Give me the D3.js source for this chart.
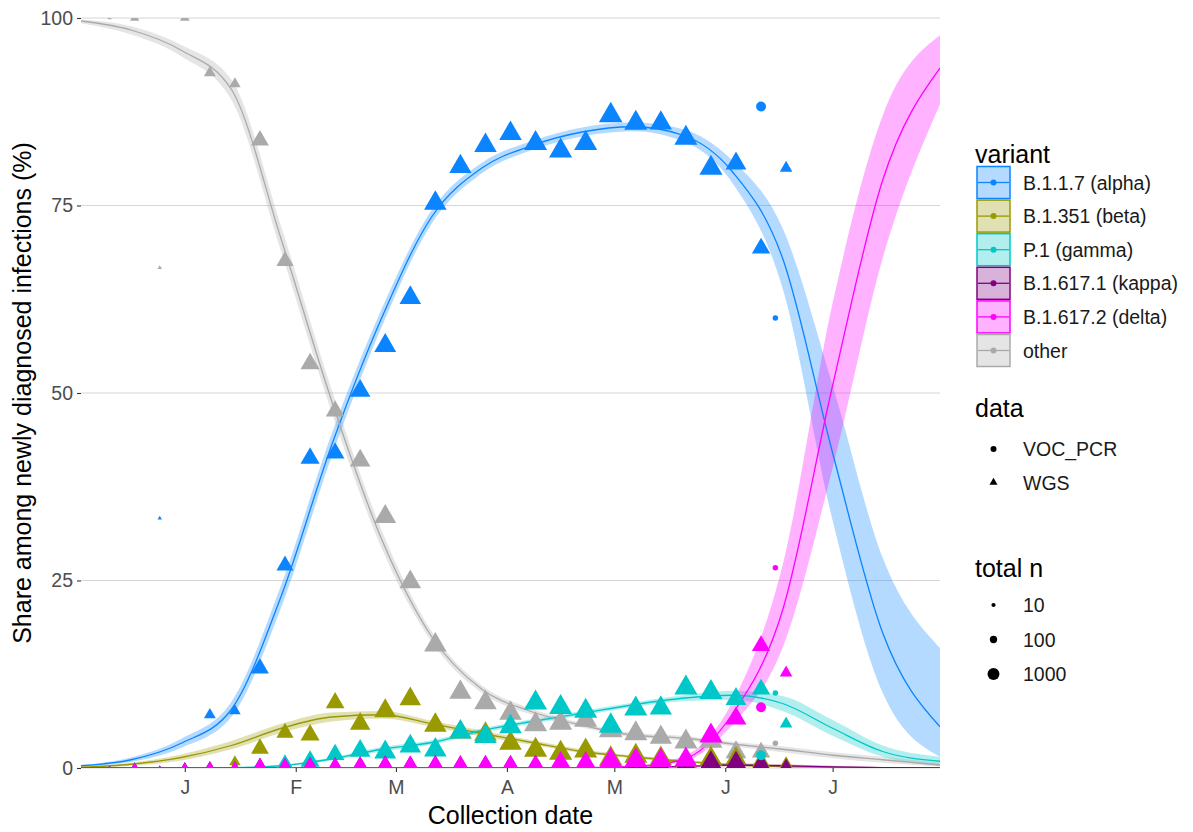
<!DOCTYPE html>
<html><head><meta charset="utf-8">
<script src="https://cdn.jsdelivr.net/npm/d3@7"></script>
<style>
body{margin:0;background:#fff}
text{font-family:"Liberation Sans",Arial,sans-serif}
</style>
</head><body>
<svg id="chart" width="1193" height="832"></svg>
<script>
// ---------------- DATA ----------------
const variants = ["B.1.1.7 (alpha)", "B.1.351 (beta)", "P.1 (gamma)", "B.1.617.1 (kappa)", "B.1.617.2 (delta)", "other"];
const dataTypes = ["VOC_PCR", "WGS"];
const sizeBreaks = [10, 100, 1000];
const yTicks = [0, 25, 50, 75, 100];
const xTickDates = ["2021-01-01","2021-02-01","2021-03-01","2021-04-01","2021-05-01","2021-06-01","2021-07-01"];
const xTickLabels = ["J","F","M","A","M","J","J"];

// weekly WGS observations
const weekDates = ["2020-12-11","2020-12-18","2020-12-25","2021-01-01","2021-01-08","2021-01-15","2021-01-22",
  "2021-01-29","2021-02-05","2021-02-12","2021-02-19","2021-02-26","2021-03-05","2021-03-12","2021-03-19",
  "2021-03-26","2021-04-02","2021-04-09","2021-04-16","2021-04-23","2021-04-30","2021-05-07","2021-05-14",
  "2021-05-21","2021-05-28","2021-06-04","2021-06-11","2021-06-18"];
const weekN = [2,80,3,100,230,200,1700,1400,2500,2200,3700,5500,5000,6500,6000,6500,6500,7500,7500,7500,8500,7500,6000,7500,7500,4000,2000,300];
const wgsAlpha = [0,0,33.3,0,7.1,7.6,13.3,27,41.3,42,50.3,56.3,62.7,75.3,80.2,83,84.6,83.3,82.3,83.3,87,86,86,84,80,80.6,69.3,80];
const wgsBeta  = [0,0,0,0,0,0.8,2.6,4.7,4.4,8.7,5.9,7.6,9.2,5.7,4.8,4.5,3.3,2.4,2.0,2.3,1.2,1.6,1.3,0.8,1.2,1.3,0.8,0.6];
const wgsGamma = [0,0,0,0,0,0,0,0.5,0.9,1.8,2.3,2.1,2.9,2.4,4.8,4.2,5.5,8.7,8.1,7.6,5.6,7.9,8.0,10.7,10.1,9.2,10.5,5.9];
const wgsKappa = [0,0,0,0,0,0,0,0,0,0,0,0,0,0,0,0,0,0,0,0,0,0,0.1,0.3,0.6,0.7,0.5,0.3];
const wgsDelta = [0,0,0,0,0,0,0,0,0,0,0,0,0,0,0,0,0,0,0.5,0.5,0.9,1.0,1.0,1.1,4.3,6.6,16.3,12.7];
const wgsOther = [100,100,66.7,100,92.7,91.2,83.7,67.6,53.9,47.6,41,33.5,24.8,16.4,10.1,8.7,7.3,5.8,6.0,6.4,5.0,4.6,4.1,3.5,3.6,2.1,2.1,0.5];

// VOC PCR observations
const pcrDates = ["2021-06-11","2021-06-15"];
const pcrN = [400, 30];
const pcrAlpha = [88.2, 60];
const pcrBeta  = [0, 0];
const pcrGamma = [1.7, 10];
const pcrKappa = [0, 0];
const pcrDelta = [8.1, 26.7];
const pcrOther = [2.0, 3.3];

// fitted multinomial curves with 95% bands
const fitDates = ["2020-12-03","2020-12-17","2020-12-31","2021-01-14","2021-01-28","2021-02-11","2021-02-25",
  "2021-03-11","2021-03-25","2021-04-08","2021-04-22","2021-05-06","2021-05-20","2021-06-03","2021-06-17",
  "2021-07-01","2021-07-15","2021-07-31"];
const fitAlpha = [0.3,1.1,3.3,7.8,23,43,60,73.5,80,83,84.8,85.5,84.4,79.5,68,42,18,5.5];
const loAlpha  = [0.2,0.8,2.7,6.8,21.5,41.5,58.8,72.6,79.3,82.4,84.2,84.9,83.6,78,64,33,10,1.5];
const hiAlpha  = [0.4,1.4,3.9,8.8,24.5,44.5,61.2,74.4,80.7,83.6,85.4,86.1,85.2,81,72,51,28,16];
const fitBeta  = [0.1,0.5,1.4,3.0,5.3,6.8,7.1,5.9,4.6,3.4,2.2,1.5,0.9,0.4,0.2,0.1,0.03,0.01];
const loBeta   = [0.05,0.3,1.0,2.5,4.7,6.2,6.6,5.5,4.2,3.1,2.0,1.3,0.7,0.3,0.1,0.05,0,0];
const hiBeta   = [0.15,0.7,1.8,3.6,5.9,7.4,7.6,6.3,5.0,3.7,2.5,1.7,1.1,0.6,0.3,0.15,0.08,0.03];
const fitGamma = [0,0,0.01,0.05,0.3,1.2,2.5,3.4,5.0,6.2,7.3,8.4,9.3,9.7,8.6,5.3,2.2,0.9];
const loGamma  = [0,0,0,0.02,0.2,1.0,2.2,3.1,4.7,5.9,7.0,8.1,8.9,9.1,7.6,4.3,1.5,0.3];
const hiGamma  = [0,0.01,0.03,0.1,0.45,1.4,2.8,3.7,5.3,6.5,7.6,8.7,9.7,10.3,9.6,6.4,3.0,1.5];
const fitKappa = [0,0,0,0,0,0,0,0,0,0,0,0.05,0.2,0.4,0.3,0.15,0.05,0.02];
const loKappa  = [0,0,0,0,0,0,0,0,0,0,0,0.02,0.1,0.25,0.15,0.05,0.01,0];
const hiKappa  = [0,0,0,0,0,0,0,0,0,0,0,0.1,0.3,0.6,0.5,0.3,0.15,0.08];
const fitDelta = [0,0,0,0,0,0,0,0,0,0.01,0.05,0.2,1.1,7.2,21,51,78.4,93.3];
const loDelta  = [0,0,0,0,0,0,0,0,0,0,0.01,0.15,0.8,5.8,16,40,68,88.5];
const hiDelta  = [0,0,0,0,0,0,0,0,0,0.02,0.08,0.3,1.5,8.8,27,62,87,97.7];
const fitOther = [99.6,98.4,95.7,90.5,70.4,49,30.5,17.5,10.5,7.5,5.7,4.4,4.0,3.2,2.5,1.7,1.1,0.4];
const loOther  = [99.3,97.8,94.9,89.1,68.7,47.5,29.3,16.8,10.0,7.1,5.4,4.1,3.7,2.9,2.1,1.3,0.7,0.2];
const hiOther  = [99.8,98.9,96.4,91.8,72.1,50.5,31.7,18.2,11.0,7.9,6.0,4.7,4.3,3.5,2.9,2.1,1.5,0.7];

// ---------------- STYLE ----------------
const colors = ["#0A84FF","#999900","#00C8C8","#800080","#FF00FF","#AAAAAA"];
const TITLE_FS = "25px", LABEL_FS = "19.5px";

const parse = d3.utcParse("%Y-%m-%d");
const svg = d3.select("#chart");
const P = {l:81, r:940, t:18, b:768};
const x = d3.scaleUtc().domain([parse("2020-12-03"), parse("2021-07-31")]).range([P.l, P.r]);
const y = d3.scaleLinear().domain([0,100]).range([P.b, P.t]);
const rad = n => 1.5 + 7.5 * Math.pow(Math.log10(n)/4, 1.8);
const area = n => Math.PI * rad(n) * rad(n);

const series = [
  {fit:fitAlpha, lo:loAlpha, hi:hiAlpha, wgs:wgsAlpha, pcr:pcrAlpha},
  {fit:fitBeta,  lo:loBeta,  hi:hiBeta,  wgs:wgsBeta,  pcr:pcrBeta},
  {fit:fitGamma, lo:loGamma, hi:hiGamma, wgs:wgsGamma, pcr:pcrGamma},
  {fit:fitKappa, lo:loKappa, hi:hiKappa, wgs:wgsKappa, pcr:pcrKappa},
  {fit:fitDelta, lo:loDelta, hi:hiDelta, wgs:wgsDelta, pcr:pcrDelta},
  {fit:fitOther, lo:loOther, hi:hiOther, wgs:wgsOther, pcr:pcrOther}
].map((s,i) => Object.assign(s, {name: variants[i], color: colors[i]}));

svg.append("defs").append("clipPath").attr("id","panel")
  .append("rect").attr("x",P.l).attr("y",P.t).attr("width",P.r-P.l).attr("height",P.b-P.t);

// gridlines
svg.append("g").selectAll("line").data(yTicks).join("line")
  .attr("x1",P.l).attr("x2",P.r).attr("y1",d=>y(d)).attr("y2",d=>y(d))
  .attr("stroke","#D6D6D6").attr("stroke-width",1.1);

const plot = svg.append("g").attr("clip-path","url(#panel)");
const fDates = fitDates.map(parse);
const bandGen = d3.area().curve(d3.curveMonotoneX).x(d=>x(d.d)).y0(d=>y(d.lo)).y1(d=>y(d.hi));
const lineGen = d3.line().curve(d3.curveMonotoneX).x(d=>x(d.d)).y(d=>y(d.v));

series.forEach(s => {
  const pts = fDates.map((d,i)=>({d, v:s.fit[i], lo:s.lo[i], hi:s.hi[i]}));
  plot.append("path").attr("d", bandGen(pts)).attr("fill", s.color).attr("fill-opacity",0.3);
});
series.forEach(s => {
  const pts = fDates.map((d,i)=>({d, v:s.fit[i]}));
  plot.append("path").attr("d", lineGen(pts)).attr("fill","none").attr("stroke", s.color).attr("stroke-width",1.3);
});

// points: draw "other" first, then variants in order
const drawOrder = [5,0,1,2,3,4];
const wDates = weekDates.map(parse), pDates = pcrDates.map(parse);
drawOrder.forEach(k => {
  const s = series[k];
  plot.append("g").selectAll("path").data(s.wgs.map((v,i)=>({d:wDates[i], v, n:weekN[i]}))).join("path")
    .attr("transform", d=>`translate(${x(d.d)},${y(d.v)})`)
    .attr("d", d=>d3.symbol().type(d3.symbolTriangle).size(area(d.n))())
    .attr("fill", s.color);
});
drawOrder.forEach(k => {
  const s = series[k];
  plot.append("g").selectAll("circle").data(s.pcr.map((v,i)=>({d:pDates[i], v, n:pcrN[i]})).filter(d=>d.v>0)).join("circle")
    .attr("cx", d=>x(d.d)).attr("cy", d=>y(d.v)).attr("r", d=>rad(d.n))
    .attr("fill", s.color);
});

// axes
const yAxis = svg.append("g").attr("transform",`translate(${P.l},0)`)
  .call(d3.axisLeft(y).tickValues(yTicks).tickSize(4).tickPadding(4));
const xAxis = svg.append("g").attr("transform",`translate(0,${P.b})`)
  .call(d3.axisBottom(x).tickValues(xTickDates.map(parse)).tickFormat((d,i)=>xTickLabels[i]).tickSize(4).tickPadding(8));
[yAxis, xAxis].forEach(a => {
  a.select(".domain").remove();
  a.selectAll(".tick line").attr("stroke","#333").attr("stroke-width",1.1);
  a.selectAll(".tick text").attr("fill","#4D4D4D").style("font-size",LABEL_FS).style("font-family","Liberation Sans, Arial, sans-serif");
});

svg.append("text").attr("x",(P.l+P.r)/2).attr("y",824).attr("text-anchor","middle")
  .style("font-size",TITLE_FS).attr("fill","#000").text("Collection date");
svg.append("text").attr("transform",`translate(31,${(P.t+P.b)/2}) rotate(-90)`).attr("text-anchor","middle")
  .style("font-size",TITLE_FS).attr("fill","#000").text("Share among newly diagnosed infections (%)");

// legend: variant
const L = svg.append("g");
L.append("text").attr("x",975).attr("y",163).style("font-size",TITLE_FS).text("variant");
series.forEach((s,i) => {
  const ty = 166 + i*33.6;
  const g = L.append("g");
  g.append("rect").attr("x",977).attr("y",ty+0.5).attr("width",33).attr("height",32)
    .attr("fill", s.color).attr("fill-opacity",0.3).attr("stroke", s.color).attr("stroke-width",1.5);
  g.append("line").attr("x1",978).attr("x2",1009).attr("y1",ty+16.5).attr("y2",ty+16.5).attr("stroke",s.color).attr("stroke-width",1.3);
  g.append("circle").attr("cx",993.5).attr("cy",ty+16.5).attr("r",3).attr("fill",s.color);
  g.append("text").attr("x",1023).attr("y",ty+23.5).style("font-size",LABEL_FS).attr("fill","#1a1a1a").text(s.name);
});
// legend: data
L.append("text").attr("x",975).attr("y",417).style("font-size",TITLE_FS).text("data");
dataTypes.forEach((t,i) => {
  const cy = 449 + i*33.5;
  if (t === "VOC_PCR") L.append("circle").attr("cx",993.5).attr("cy",cy).attr("r",3).attr("fill","#000");
  else L.append("path").attr("transform",`translate(993.5,${cy})`).attr("d",d3.symbol().type(d3.symbolTriangle).size(Math.PI*9)()).attr("fill","#000");
  L.append("text").attr("x",1023).attr("y",cy+7).style("font-size",LABEL_FS).attr("fill","#1a1a1a").text(t);
});
// legend: total n
L.append("text").attr("x",975).attr("y",577).style("font-size",TITLE_FS).text("total n");
sizeBreaks.forEach((n,i) => {
  const cy = 605 + i*34.5;
  L.append("circle").attr("cx",993.5).attr("cy",cy).attr("r",rad(n)).attr("fill","#000");
  L.append("text").attr("x",1023).attr("y",cy+7).style("font-size",LABEL_FS).attr("fill","#1a1a1a").text(n);
});
</script>
</body></html>
